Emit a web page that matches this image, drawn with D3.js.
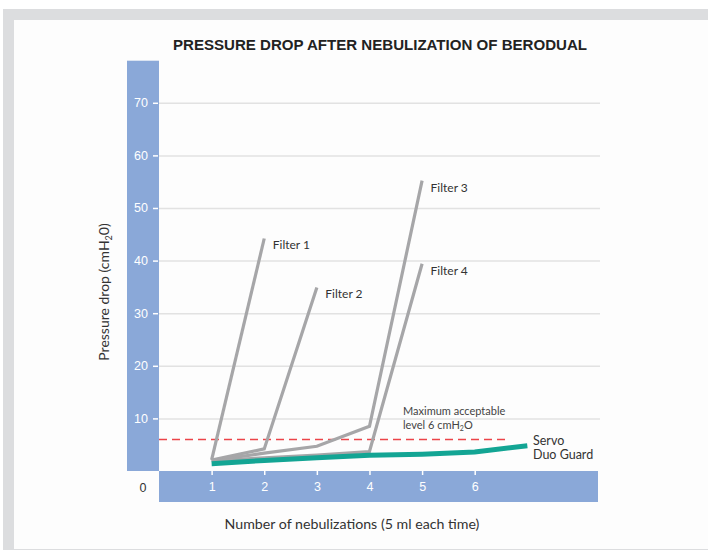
<!DOCTYPE html>
<html>
<head>
<meta charset="utf-8">
<script src="https://cdn.jsdelivr.net/npm/d3@7"></script>
<style>
  body { margin: 0; background: #ffffff; }
  text { font-family: Lato, "Open Sans", sans-serif; }
</style>
</head>
<body>
<div id="chart"></div>
<script>
// chart data
var xTicks = [1, 2, 3, 4, 5, 6];
var yTicks = [10, 20, 30, 40, 50, 60, 70];

var filter1 = [[1, 2.1], [2, 44.2]];
var filter2 = [[1, 2.1], [2, 4.2], [3, 34.9]];
var filter3 = [[1, 2.0], [2, 3.4], [3, 4.7], [4, 8.5], [5, 55.2]];
var filter4 = [[1, 2.0], [2, 2.5], [3, 3.0], [4, 3.7], [5, 39.4]];
var duoGuard = [[1, 1.4], [2, 2.0], [3, 2.5], [4, 3.0], [5, 3.2], [6, 3.6], [7, 4.8]];
var maxLevel = 6;

var filterSeries = [
  {name: "Filter 1", values: filter1},
  {name: "Filter 2", values: filter2},
  {name: "Filter 3", values: filter3},
  {name: "Filter 4", values: filter4}
];

var svgWidth = 708;
var svgHeight = 551;

var svg = d3.select("#chart")
  .append("svg")
  .attr("width", svgWidth)
  .attr("height", svgHeight);

// card frame
svg.append("rect").attr("x", 3).attr("y", 9).attr("width", 705).attr("height", 541).attr("fill", "#dcdddf");
svg.append("rect").attr("x", 14).attr("y", 20).attr("width", 694).attr("height", 529).attr("fill", "#fdfdfd");

// scales
var x = d3.scaleLinear().domain([0, 8.4]).range([159, 601]);
var y = d3.scaleLinear().domain([0, 78]).range([471, 60.7]);

// blue axis bands
svg.append("rect")
  .attr("x", 127).attr("y", y(78))
  .attr("width", x(0) - 127).attr("height", y(0) - y(78))
  .attr("fill", "#8aa8d8");
svg.append("rect")
  .attr("x", x(0)).attr("y", y(0))
  .attr("width", 598 - x(0)).attr("height", 31)
  .attr("fill", "#8aa8d8");

// gridlines
svg.append("g")
  .attr("transform", `translate(${x(0)},0)`)
  .call(d3.axisLeft(y).tickValues(yTicks).tickSize(-(600 - x(0))).tickFormat(""))
  .call(g => g.select(".domain").remove())
  .call(g => g.selectAll("line").attr("stroke", "#e2e2e2").attr("stroke-width", 1.5));

// y axis
svg.append("g")
  .attr("transform", `translate(${x(0) - 1},0)`)
  .call(d3.axisLeft(y).tickValues(yTicks).tickSize(5).tickPadding(5))
  .call(g => g.select(".domain").remove())
  .call(g => g.selectAll("line").attr("stroke", "#ffffff").attr("stroke-width", 1.5))
  .call(g => g.selectAll("text")
    .attr("fill", "#ffffff")
    .style("font-family", "'Liberation Sans', Arial, sans-serif")
    .style("font-size", "12.5px"));

// x axis
svg.append("g")
  .attr("transform", `translate(0,${y(0)})`)
  .call(d3.axisBottom(x).tickValues(xTicks).tickSize(4).tickPadding(7))
  .call(g => g.select(".domain").remove())
  .call(g => g.selectAll("line").attr("stroke", "#ffffff").attr("stroke-width", 1.5))
  .call(g => g.selectAll("text")
    .attr("fill", "#ffffff")
    .style("font-family", "'Liberation Sans', Arial, sans-serif")
    .style("font-size", "12.5px"));

// origin label
svg.append("text")
  .attr("x", 143).attr("y", 491.5)
  .attr("text-anchor", "middle")
  .attr("fill", "#333")
  .style("font-family", "'Liberation Sans', Arial, sans-serif")
  .style("font-size", "12.5px")
  .text("0");

// max level dashed line
svg.append("line")
  .attr("x1", x(0)).attr("x2", 507)
  .attr("y1", y(maxLevel)).attr("y2", y(maxLevel))
  .attr("stroke", "#ec4449")
  .attr("stroke-width", 1.5)
  .attr("stroke-dasharray", "8,5");

var line = d3.line()
  .x(d => x(d[0]))
  .y(d => y(d[1]));

// filter lines
svg.selectAll(".filterLine")
  .data(filterSeries)
  .enter()
  .append("path")
  .attr("class", "filterLine")
  .attr("d", d => line(d.values))
  .attr("fill", "none")
  .attr("stroke", "#a6a6a8")
  .attr("stroke-width", 3.2);

// servo duo guard line
svg.append("path")
  .attr("d", line(duoGuard))
  .attr("fill", "none")
  .attr("stroke", "#13a594")
  .attr("stroke-width", 5);

// filter labels
svg.selectAll(".filterLabel")
  .data(filterSeries)
  .enter()
  .append("text")
  .attr("class", "filterLabel")
  .attr("x", d => x(d.values[d.values.length - 1][0]) + 8.5)
  .attr("y", d => y(d.values[d.values.length - 1][1]) + 11)
  .attr("fill", "#333")
  .style("font-size", "12px")
  .text(d => d.name);

// annotations
var ann = svg.append("text")
  .attr("fill", "#444")
  .style("font-size", "11px");
ann.append("tspan").attr("x", 403).attr("y", 415).text("Maximum acceptable");
ann.append("tspan").attr("x", 403).attr("y", 428.5).text("level 6 cmH");
ann.append("tspan").attr("dy", 2).style("font-size", "7px").text("2");
ann.append("tspan").attr("dy", -2).text("O");

var servo = svg.append("text")
  .attr("fill", "#333")
  .style("font-size", "12.5px");
servo.append("tspan").attr("x", 533).attr("y", 445).text("Servo");
servo.append("tspan").attr("x", 533).attr("y", 459).text("Duo Guard");

// title
svg.append("text")
  .attr("x", 380).attr("y", 50)
  .attr("text-anchor", "middle")
  .attr("fill", "#222")
  .style("font-family", "'Liberation Sans', Arial, sans-serif")
  .style("font-weight", "bold")
  .style("font-size", "14px")
  .attr("textLength", 414)
  .attr("lengthAdjust", "spacingAndGlyphs")
  .text("PRESSURE DROP AFTER NEBULIZATION OF BERODUAL");

// axis labels
svg.append("text")
  .attr("x", 352).attr("y", 529)
  .attr("text-anchor", "middle")
  .attr("fill", "#333")
  .style("font-size", "14.2px")
  .text("Number of nebulizations (5 ml each time)");

var yLab = svg.append("text")
  .attr("transform", "translate(109,292) rotate(-90)")
  .attr("text-anchor", "middle")
  .attr("fill", "#333")
  .style("font-size", "14px");
yLab.append("tspan").text("Pressure drop (cmH");
yLab.append("tspan").attr("dy", 3).style("font-size", "9px").text("2");
yLab.append("tspan").attr("dy", -3).text("0)");
</script>
</body>
</html>
